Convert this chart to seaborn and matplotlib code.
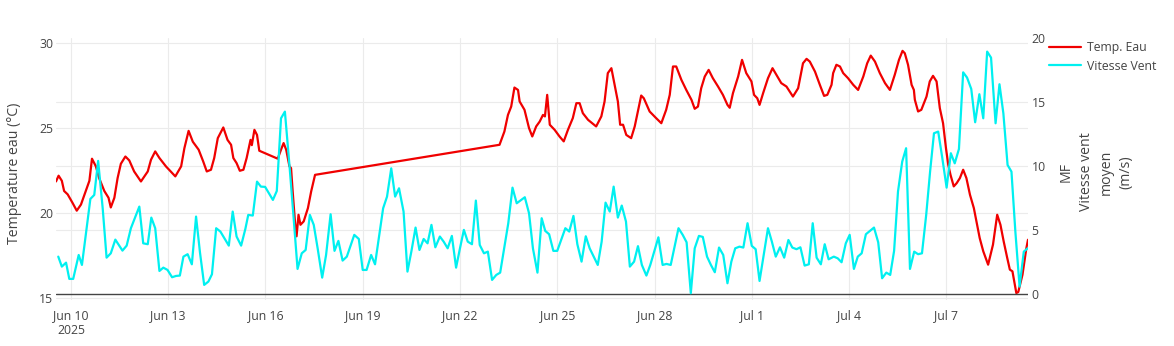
import numpy as np
import pandas as pd
import matplotlib
matplotlib.use("Agg")
import matplotlib.pyplot as plt
import seaborn as sns

# ---------------- data (days since 2025-06-10 00:00) ----------------
temp_days = [
    -0.46, -0.38, -0.28, -0.21, -0.10, 0.05, 0.18, 0.31, 0.46, 0.57, 0.65, 0.77, 0.87,
    1.03, 1.16, 1.23, 1.34, 1.44, 1.54, 1.68, 1.80, 1.95, 2.16, 2.37, 2.47, 2.60, 2.73,
    2.93, 3.22, 3.40, 3.50, 3.63, 3.76, 3.94, 4.08, 4.19, 4.32, 4.42, 4.53, 4.70, 4.83,
    4.94, 5.01, 5.11, 5.21, 5.32, 5.42, 5.54, 5.58, 5.66, 5.74, 5.81, 6.38, 6.48, 6.56,
    6.64, 6.74, 6.79, 6.84, 6.91, 6.96, 7.02, 7.08, 7.18, 7.31, 7.41, 7.53,
    13.22, 13.37, 13.48, 13.58, 13.68, 13.79, 13.84, 13.99, 14.13, 14.23, 14.35, 14.46,
    14.56, 14.62, 14.69, 14.77, 14.92, 15.07, 15.20, 15.33, 15.48, 15.59, 15.69, 15.79,
    15.95, 16.20, 16.36, 16.46, 16.56, 16.67, 16.77, 16.87, 16.94, 17.03, 17.13, 17.28,
    17.39, 17.59, 17.67, 17.85, 18.05, 18.21, 18.36, 18.47, 18.57, 18.67, 18.83, 18.98,
    19.14, 19.24, 19.34, 19.44, 19.55, 19.67, 19.80, 19.96, 20.11, 20.25, 20.32, 20.42,
    20.58, 20.70, 20.83, 20.99, 21.07, 21.17, 21.24, 21.35, 21.50, 21.64, 21.76, 21.91,
    22.07, 22.27, 22.43, 22.58, 22.69, 22.79, 22.95, 23.10, 23.23, 23.33, 23.46,
    23.51, 23.61, 23.72, 23.82, 23.97, 24.13, 24.28, 24.44, 24.56, 24.67, 24.80, 24.95,
    25.11, 25.26, 25.41, 25.54, 25.65, 25.72, 25.82, 25.93, 26.00, 26.03, 26.13, 26.23,
    26.39, 26.49, 26.59, 26.70, 26.80, 26.90, 26.99, 27.06, 27.13, 27.23, 27.32, 27.42,
    27.52, 27.62, 27.73, 27.85, 27.93, 28.03, 28.14, 28.29, 28.44, 28.57, 28.67, 28.77,
    28.88, 28.96, 29.04, 29.16, 29.22, 29.35, 29.47, 29.52,
]
temp_vals = [
    21.86, 22.2, 21.9, 21.3, 21.1, 20.6, 20.14, 20.5, 21.3, 21.9, 23.2, 22.75, 22.06,
    21.3, 20.9, 20.33, 20.9, 22.06, 22.9, 23.33, 23.1, 22.45, 21.86, 22.45, 23.14, 23.63, 23.24,
    22.75, 22.16, 22.75, 23.82, 24.84, 24.2, 23.73, 23.04, 22.45, 22.55, 23.24, 24.41, 25.04, 24.31,
    24.02, 23.24, 22.94, 22.49, 22.55, 23.24, 24.31, 24.0, 24.9, 24.6, 23.67, 23.2, 23.73, 24.12,
    23.73, 22.75, 22.65, 21.27, 19.51, 18.63, 19.9, 19.31, 19.51, 20.29, 21.27, 22.25,
    24.02, 24.8, 25.78, 26.27, 27.39, 27.25, 26.57, 26.08, 25.0, 24.51, 25.1, 25.39,
    25.78, 25.69, 26.96, 25.2, 24.9, 24.51, 24.22, 24.9, 25.59, 26.47, 26.47, 25.88,
    25.49, 25.1, 25.69, 26.57, 28.24, 28.53, 27.55, 26.57, 25.2, 25.2, 24.6, 24.41,
    25.1, 26.92, 26.76, 25.98, 25.59, 25.29, 26.08, 26.96, 28.63, 28.63, 27.84, 27.25,
    26.67, 26.14, 26.27, 27.35, 28.04, 28.43, 27.94, 27.45, 26.96, 26.37, 26.2, 27.06,
    28.04, 29.02, 28.24, 27.75, 26.96, 26.76, 26.37, 27.06, 27.94, 28.53, 28.14, 27.65,
    27.45, 26.86, 27.35, 28.82, 29.08, 28.92, 28.33, 27.55, 26.9, 26.96, 27.55,
    28.24, 28.73, 28.63, 28.24, 27.94, 27.55, 27.25, 28.04, 28.82, 29.27, 28.92, 28.24,
    27.65, 27.25, 28.14, 29.02, 29.55, 29.41, 28.73, 27.55, 27.25, 26.67, 25.98, 26.08,
    26.86, 27.75, 28.08, 27.75, 26.18, 25.29, 23.82, 22.84, 22.25, 21.57, 21.76, 22.06,
    22.55, 22.06, 21.08, 20.29, 19.51, 18.53, 17.75, 16.96, 18.14, 19.9, 19.31, 18.33,
    17.35, 16.67, 16.57, 15.29, 15.35, 16.37, 17.94, 18.43,
]

wind_days = [
    -0.39, -0.28, -0.15, -0.05, 0.07, 0.24, 0.34, 0.60, 0.72, 0.84, 0.98, 1.10, 1.23,
    1.37, 1.59, 1.72, 1.85, 2.11, 2.23, 2.37, 2.48, 2.60, 2.73, 2.85, 2.98, 3.12, 3.24,
    3.36, 3.47, 3.60, 3.73, 3.86, 3.98, 4.11, 4.24, 4.35, 4.48, 4.61, 4.87, 4.99, 5.11,
    5.25, 5.38, 5.47, 5.61, 5.74, 5.86, 5.99, 6.23, 6.35, 6.48, 6.60, 6.74, 6.87, 6.99,
    7.12, 7.24, 7.37, 7.49, 7.61, 7.75, 7.87, 8.01, 8.13, 8.25, 8.38, 8.51, 8.74, 8.88,
    9.00, 9.12, 9.26, 9.38, 9.63, 9.75, 9.88, 10.00, 10.12, 10.26, 10.38, 10.50, 10.63,
    10.75, 10.88, 11.00, 11.12, 11.24, 11.38, 11.50, 11.62, 11.75, 11.88, 12.00, 12.12,
    12.24, 12.37, 12.49, 12.61, 12.74, 12.86, 12.99, 13.12, 13.24, 13.49, 13.62, 13.75,
    14.00, 14.13, 14.25, 14.39, 14.52, 14.63, 14.75, 14.88, 15.00, 15.25, 15.37, 15.50,
    15.62, 15.75, 15.88, 16.00, 16.25, 16.37, 16.49, 16.62, 16.74, 16.87, 16.99, 17.12,
    17.24, 17.37, 17.49, 17.61, 17.75, 17.87, 18.12, 18.25, 18.37, 18.50, 18.74, 18.87,
    18.99, 19.12, 19.24, 19.37, 19.49, 19.62, 19.74, 19.86, 19.99, 20.12, 20.25, 20.37,
    20.49, 20.62, 20.74, 20.87, 21.00, 21.12, 21.24, 21.50, 21.62, 21.74, 21.87, 22.00,
    22.13, 22.25, 22.38, 22.50, 22.63, 22.76, 22.88, 23.00, 23.13, 23.25, 23.37,
    23.53, 23.65, 23.77, 23.90, 24.02, 24.15, 24.27, 24.39, 24.52, 24.77, 24.90, 25.02,
    25.15, 25.27, 25.39, 25.51, 25.64, 25.76, 25.88, 26.01, 26.13, 26.25, 26.38, 26.50,
    26.62, 26.75, 26.87, 27.01, 27.14, 27.26, 27.39, 27.52, 27.64, 27.77, 27.89, 28.02,
    28.14, 28.26, 28.38, 28.52, 28.64, 28.76, 28.89, 29.01, 29.13, 29.26, 29.39, 29.51,
]
wind_vals = [
    2.94, 2.16, 2.47, 1.2, 1.2, 3.07, 2.29, 7.45, 7.76, 10.42, 6.72, 2.86, 3.2,
    4.27, 3.41, 3.8, 5.16, 6.85, 3.98, 3.91, 5.99, 5.16, 1.82, 2.08, 1.9, 1.33, 1.43,
    1.46, 2.94, 3.13, 2.34, 6.07, 3.28, 0.73, 0.99, 1.56, 5.16, 4.9, 3.8, 6.46, 4.51,
    3.8, 5.1, 6.2, 6.15, 8.8, 8.41, 8.39, 7.37, 8.07, 13.75, 14.27, 10.1, 5.94, 1.98,
    3.2, 3.46, 6.2, 5.42, 3.59, 1.3, 3.07, 6.25, 3.39, 4.17, 2.63, 2.94, 4.64, 4.32,
    1.9, 1.9, 3.07, 2.34, 6.72, 7.63, 9.84, 7.63, 8.28, 6.46, 1.77, 3.33, 5.21,
    3.46, 4.32, 3.98, 5.42, 3.67, 4.51, 4.1, 3.59, 4.56, 2.08, 3.59, 5.03,
    4.11, 3.91, 7.32, 3.85, 3.2, 3.33, 1.12, 1.51, 1.69, 5.55, 8.33, 7.11,
    7.58, 6.33, 3.59, 1.69, 5.94, 4.95, 4.69, 3.39, 3.39, 5.16, 4.9, 6.12,
    3.91, 2.55, 4.53, 3.59, 2.29, 4.11, 7.16, 6.46, 8.41, 5.99, 6.93, 5.68,
    2.16, 2.55, 3.76, 2.29, 1.46, 2.29, 4.45, 2.29, 2.37, 2.29, 5.16, 4.64,
    4.06, 0.08, 3.59, 4.56, 4.48, 2.94, 2.29, 1.72, 3.65, 3.07, 0.86, 2.55,
    3.59, 3.72, 3.65, 5.55, 3.78, 3.52, 1.04, 5.16, 4.11, 2.94, 3.67, 2.86,
    4.24, 3.65, 3.52, 3.67, 2.24, 2.34, 5.55, 2.86, 2.34, 3.91, 2.73,
    2.94, 2.81, 2.5, 3.98, 4.64, 1.98, 2.94, 3.2, 4.69, 5.21, 4.06, 1.25,
    1.69, 1.51, 3.39, 8.02, 10.36, 11.41, 1.98, 3.33, 3.13, 3.2, 6.2, 9.58,
    12.58, 12.71, 10.76, 8.33, 11.02, 10.23, 11.35, 17.34, 16.93, 16.04, 13.44, 15.63,
    13.75, 18.96, 18.49, 13.36, 16.41, 14.14, 10.1, 9.58, 4.9, 0.6, 3.33, 3.59,
]

temp_label = "Temp. Eau"
wind_label = "Vitesse Vent"
left_title = "Temperature eau (°C)"
right_title = "MF\nVitesse vent\nmoyen\n(m/s)"
left_ticks = [15, 20, 25, 30]
right_ticks = [0, 5, 10, 15, 20]

base = pd.Timestamp("2025-06-10")
df_t = pd.DataFrame({"time": base + pd.to_timedelta(temp_days, unit="D"), "val": temp_vals})
df_w = pd.DataFrame({"time": base + pd.to_timedelta(wind_days, unit="D"), "val": wind_vals})

# ---------------- style ----------------
sns.set_theme(style="white")
plt.rcParams["font.family"] = ["Open Sans", "DejaVu Sans"]
TXT = "#444444"
GRID = "#ebebeb"
W, H = 1174, 346
fig = plt.figure(figsize=(W / 100, H / 100), dpi=100)
L, R, T, B = 56, 1028, 38.3, 299.5
ax = fig.add_axes([L / W, 1 - B / H, (R - L) / W, (B - T) / H])
ax2 = ax.twinx()

sns.lineplot(data=df_t, x="time", y="val", ax=ax, color="#f00000", lw=1.6, label=temp_label, legend=False, estimator=None)
sns.lineplot(data=df_w, x="time", y="val", ax=ax2, color="#00f0f0", lw=1.6, label=wind_label, legend=False, estimator=None)

xmin = min(df_t["time"].min(), df_w["time"].min())
xmax = max(df_t["time"].max(), df_w["time"].max())
ax.set_xlim(xmin, xmax)
ax.set_ylim(14.91, 30.29)
ax2.set_ylim(-0.41, 20.0)

xt = pd.date_range("2025-06-10", "2025-07-07", freq="3D")
xl = [d.strftime("%b %-d") for d in xt]
xl[0] = xl[0] + "\n2025"
ax.set_xticks(xt)
ax.set_xticklabels(xl)
ax.set_yticks(left_ticks)
ax2.set_yticks(right_ticks)

for a in (ax, ax2):
    for s in a.spines.values():
        s.set_visible(False)
    a.set_xlabel("")
    a.set_ylabel("")
    a.tick_params(length=0, labelsize=8.8, colors=TXT)
ax.tick_params(axis="x", pad=7)
ax.tick_params(axis="y", pad=2)
ax2.tick_params(axis="y", pad=2.5)

ax.grid(True, color=GRID, lw=0.8)
ax.set_axisbelow(True)
# right-axis gridlines (drawn on the left axes so they sit below the data)
for v in right_ticks:
    if 0 < v < 20:
        yy = ax.transData.inverted().transform(ax2.transData.transform((0, v)))[1]
        ax.axhline(yy, color=GRID, lw=0.8, zorder=0)
ax2.axhline(0, color=TXT, lw=1.0, zorder=1)
ax.set_zorder(ax2.get_zorder() - 1)
ax.patch.set_visible(True)
ax2.patch.set_visible(False)

fig.text(15 / W, 1 - 173 / H, left_title, rotation=90, ha="center", va="center",
         fontsize=10.2, color=TXT)
fig.text(1096 / W, 1 - 172 / H, right_title, rotation=90, ha="center", va="center",
         fontsize=10.2, color=TXT, multialignment="center", linespacing=1.45)

h1, l1 = ax.get_legend_handles_labels()
h2, l2 = ax2.get_legend_handles_labels()
fig.legend(h1 + h2, l1 + l2, loc="upper left", bbox_to_anchor=(1049 / W, 1 - 41 / H),
           frameon=False, fontsize=8.8, handlelength=2.6, handletextpad=0.5,
           labelspacing=0.45, borderaxespad=0, borderpad=0, labelcolor=TXT)

fig.savefig("out.png", dpi=100)
